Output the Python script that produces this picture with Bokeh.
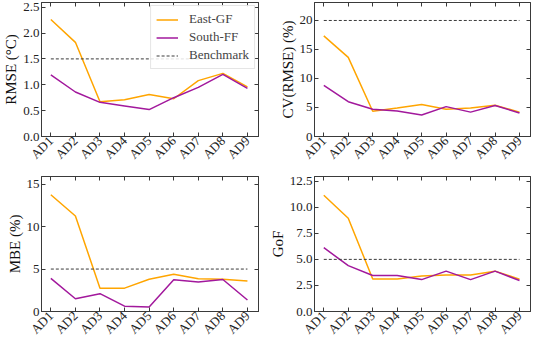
import math
from bokeh.plotting import figure
from bokeh.models import (LinearAxis, FixedTicker, NumeralTickFormatter, Range1d,
                          Legend, LegendItem)
from bokeh.layouts import gridplot
from bokeh.embed import file_html
from bokeh.resources import INLINE

categories = ["AD1", "AD2", "AD3", "AD4", "AD5", "AD6", "AD7", "AD8", "AD9"]

rmse_east = [2.26, 1.82, 0.67, 0.71, 0.81, 0.73, 1.08, 1.22, 0.96]
rmse_south = [1.19, 0.86, 0.66, 0.59, 0.52, 0.75, 0.95, 1.20, 0.93]
rmse_bench = 1.5

cv_east = [17.35, 13.65, 4.35, 4.9, 5.5, 4.7, 4.9, 5.4, 4.2]
cv_south = [8.8, 6.0, 4.7, 4.4, 3.7, 5.15, 4.2, 5.35, 4.05]
cv_bench = 20

mbe_east = [13.75, 11.25, 2.75, 2.75, 3.8, 4.4, 3.85, 3.8, 3.6]
mbe_south = [3.9, 1.5, 2.1, 0.63, 0.52, 3.73, 3.47, 3.77, 1.35]
mbe_bench = 5

gof_east = [11.15, 8.95, 3.12, 3.12, 3.4, 3.5, 3.5, 3.87, 3.1]
gof_south = [6.12, 4.4, 3.45, 3.45, 3.06, 3.87, 3.06, 3.87, 2.97]
gof_bench = 5

ORANGE = "#FFA500"
PURPLE = "#A2189C"
DARK = "#3a3a3a"
FONT = "Liberation Serif"

xs = list(range(1, len(categories) + 1))
labels = {i: c for i, c in zip(xs, categories)}


def make_panel(east, south, bench, ylabel, ymax, yticks, fmt, width, height,
               bl, br, bt, bb, legend=False):
    p = figure(width=width, height=height, output_backend="svg",
               toolbar_location=None, x_range=Range1d(0.62, 9.45),
               y_range=Range1d(0, ymax), min_border_left=bl,
               min_border_right=br, min_border_top=bt, min_border_bottom=bb)
    p.xgrid.visible = False
    p.ygrid.visible = False
    p.outline_line_color = DARK
    p.outline_line_width = 1
    p.background_fill_color = "white"
    p.border_fill_color = "white"

    le = p.line(xs, east, line_color=ORANGE, line_width=1.5)
    ls = p.line(xs, south, line_color=PURPLE, line_width=1.5)
    lb = p.line(xs, [bench] * len(xs), line_color=DARK, line_width=1,
                line_dash="3 2")

    xa = p.xaxis[0]
    xa.ticker = FixedTicker(ticks=xs)
    xa.major_label_overrides = labels
    xa.major_label_orientation = math.pi / 4
    ya = p.yaxis[0]
    ya.ticker = FixedTicker(ticks=yticks)
    ya.formatter = NumeralTickFormatter(format=fmt)
    ya.axis_label = ylabel
    for ax in (xa, ya):
        ax.axis_line_color = DARK
        ax.major_tick_line_color = DARK
        ax.major_tick_in = 4
        ax.major_tick_out = 0
        ax.minor_tick_line_color = None
        ax.major_label_text_font = FONT
        ax.major_label_text_font_size = "13px"
        ax.major_label_text_color = "#222222"
        ax.major_label_standoff = 2
        ax.axis_label_text_font = FONT
        ax.axis_label_text_font_size = "15px"
        ax.axis_label_text_font_style = "normal"
        ax.axis_label_text_color = "#111111"
        ax.axis_label_standoff = 1

    for loc, tk in (("above", xs), ("right", yticks)):
        ax = LinearAxis(ticker=FixedTicker(ticks=tk))
        ax.major_label_text_font_size = "1px"
        ax.major_label_text_color = None
        ax.major_label_standoff = 0
        ax.axis_line_color = DARK
        ax.major_tick_line_color = DARK
        ax.major_tick_in = 4
        ax.major_tick_out = 0
        ax.minor_tick_line_color = None
        p.add_layout(ax, loc)

    if legend:
        lg = Legend(items=[LegendItem(label="East-GF", renderers=[le]),
                           LegendItem(label="South-FF", renderers=[ls]),
                           LegendItem(label="Benchmark", renderers=[lb])],
                    location="top_right")
        lg.label_text_font = FONT
        lg.label_text_font_size = "13px"
        lg.label_height = 13
        lg.glyph_width = 22
        lg.glyph_height = 13
        lg.spacing = 2
        lg.padding = 5
        lg.margin = 3
        lg.label_standoff = 11
        lg.border_line_color = "#cccccc"
        lg.background_fill_alpha = 0.85
        p.add_layout(lg)
    return p


p1 = make_panel(rmse_east, rmse_south, rmse_bench, "RMSE (°C)", 2.59,
                [0, 0.5, 1.0, 1.5, 2.0, 2.5], "0.0", 266, 169, 32, 8, 2, 29,
                legend=True)
p2 = make_panel(cv_east, cv_south, cv_bench, "CV(RMSE) (%)", 23.1,
                [0, 5, 10, 15, 20], "0", 267, 169, 42, 3, 2, 29)
p3 = make_panel(mbe_east, mbe_south, mbe_bench, "MBE (%)", 15.9,
                [0, 5, 10, 15], "0", 266, 175, 32, 8, 7, 30)
p4 = make_panel(gof_east, gof_south, gof_bench, "GoF", 12.95,
                [0, 2.5, 5.0, 7.5, 10.0, 12.5], "0.0", 267, 175, 42, 3, 7, 30)

grid = gridplot([[p1, p2], [p3, p4]], toolbar_location=None)

open("out.html", "w").write(file_html(grid, INLINE))
